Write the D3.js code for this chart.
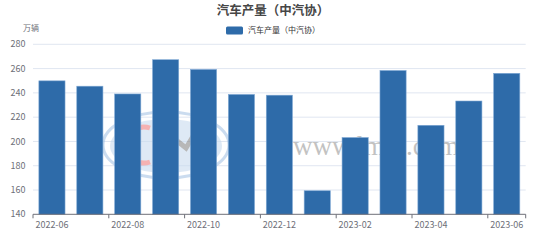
<!DOCTYPE html>
<html>
<head>
<meta charset="utf-8">
<script src="https://cdn.jsdelivr.net/npm/d3@7"></script>
<style>
  body { margin: 0; background: #fff; }
  text { font-family: "Microsoft YaHei", "Noto Sans CJK SC", "DejaVu Sans", sans-serif; }
</style>
</head>
<body>
<div id="chart"></div>
<script>
// monthly output, 万辆
const months = ["2022-06", "2022-07", "2022-08", "2022-09", "2022-10", "2022-11", "2022-12",
  "2023-01", "2023-02", "2023-03", "2023-04", "2023-05", "2023-06"];
const output = [249.9, 245.5, 239.1, 267.3, 259.3, 238.7, 238.1, 159.4, 203.2, 258.4, 213.3, 233.3, 256.1];
const yTicks = [140, 160, 180, 200, 220, 240, 260, 280];
const title = "汽车产量（中汽协）";
const unit = "万辆";

const width = 554, height = 245;
const margin = { top: 44.3, right: 28.3, bottom: 30.7, left: 33 };

const svg = d3.select("#chart").append("svg")
  .attr("width", width)
  .attr("height", height);

const x = d3.scaleBand()
  .domain(months)
  .range([margin.left, width - margin.right])
  .paddingInner(0.31)
  .paddingOuter(0.155);

const xEdge = d3.scaleBand()
  .domain(months)
  .range([margin.left, width - margin.right]);

const y = d3.scaleLinear()
  .domain([140, 280])
  .range([height - margin.bottom, margin.top]);

// grid lines
svg.append("g")
  .selectAll("line")
  .data(yTicks.slice(1))
  .join("line")
  .attr("x1", margin.left)
  .attr("x2", width - margin.right)
  .attr("y1", d => y(d))
  .attr("y2", d => y(d))
  .attr("stroke", "#E0E6F1")
  .attr("stroke-width", 1);

// watermark (behind bars)
const wm = svg.append("g").attr("opacity", 0.6);
wm.append("ellipse")
  .attr("cx", 166).attr("cy", 145).attr("rx", 63).attr("ry", 33)
  .attr("fill", "none").attr("stroke", "#a9c6e6").attr("stroke-width", 3);
wm.append("ellipse")
  .attr("cx", 166).attr("cy", 146).attr("rx", 56).attr("ry", 27)
  .attr("fill", "#c9dcef");
wm.append("path")
  .attr("d", "M150,128 A18,18 0 1,0 150,162")
  .attr("fill", "none").attr("stroke", "#f08080").attr("stroke-width", 5);
wm.append("path")
  .attr("d", "M176,140 L186,148 L198,128")
  .attr("fill", "none").attr("stroke", "#8a8a8a").attr("stroke-width", 5);
wm.append("text")
  .attr("x", 293).attr("y", 155)
  .style("font-family", "'Liberation Serif', 'DejaVu Serif', serif")
  .style("font-size", "27px")
  .attr("fill", "#9a9a9a")
  .text("www.lmm.com");

// bars
svg.append("g")
  .selectAll("rect")
  .data(months)
  .join("rect")
  .attr("x", d => x(d))
  .attr("width", x.bandwidth())
  .attr("y", (d, i) => y(output[i]))
  .attr("height", (d, i) => y(140) - y(output[i]))
  .attr("fill", "#2E6BA9")
  .attr("stroke", "#7fa8d4")
  .attr("stroke-width", 0.6);

// x axis
const xAxis = svg.append("g");
xAxis.append("line")
  .attr("x1", margin.left).attr("x2", width - margin.right)
  .attr("y1", y(140)).attr("y2", y(140))
  .attr("stroke", "#6E7079");
const tickMonths = months.filter((d, i) => i % 2 === 0);
xAxis.selectAll(".tick")
  .data(tickMonths)
  .join("line")
  .attr("x1", d => xEdge(d)).attr("x2", d => xEdge(d))
  .attr("y1", y(140)).attr("y2", y(140) + 4)
  .attr("stroke", "#6E7079");
xAxis.append("line")
  .attr("x1", width - margin.right).attr("x2", width - margin.right)
  .attr("y1", y(140)).attr("y2", y(140) + 4)
  .attr("stroke", "#6E7079");
xAxis.selectAll("text")
  .data(tickMonths)
  .join("text")
  .attr("x", d => xEdge(d) + xEdge.bandwidth() / 2)
  .attr("y", y(140) + 14)
  .attr("text-anchor", "middle")
  .attr("fill", "#6E7079")
  .style("font-size", "9px")
  .text(d => d);

// y axis labels
svg.append("g")
  .selectAll("text")
  .data(yTicks)
  .join("text")
  .attr("x", 25.5)
  .attr("y", d => y(d))
  .attr("dy", "0.35em")
  .attr("text-anchor", "end")
  .attr("fill", "#6E7079")
  .style("font-size", "9px")
  .text(d => d);

svg.append("text")
  .attr("x", 31)
  .attr("y", 28)
  .attr("dy", "0.35em")
  .attr("text-anchor", "middle")
  .attr("fill", "#6E7079")
  .style("font-size", "8px")
  .text(unit);

// title
svg.append("text")
  .attr("x", 273)
  .attr("y", 10.5)
  .attr("dy", "0.35em")
  .attr("text-anchor", "middle")
  .attr("fill", "#464646")
  .style("font-size", "12.5px")
  .style("font-weight", "bold")
  .text(title);

// legend
svg.append("rect")
  .attr("x", 226).attr("y", 26.5)
  .attr("width", 17).attr("height", 8)
  .attr("rx", 1.5)
  .attr("fill", "#2E6BA9");
svg.append("text")
  .attr("x", 248)
  .attr("y", 30.5)
  .attr("dy", "0.35em")
  .attr("fill", "#333")
  .style("font-size", "8px")
  .text(title);
</script>
</body>
</html>
